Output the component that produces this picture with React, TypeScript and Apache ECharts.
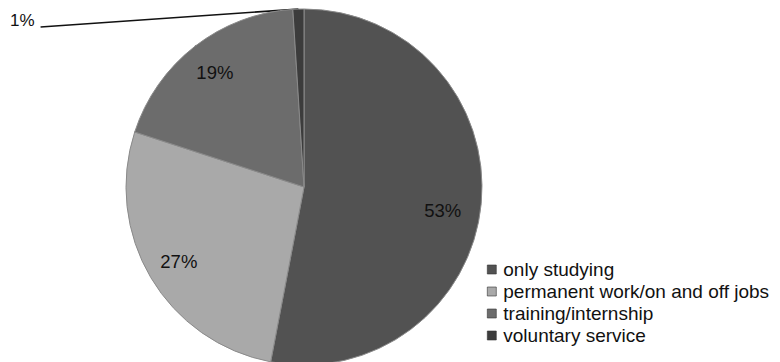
import React, { useEffect, useRef } from "react";
import * as echarts from "echarts";

const categories = ["only studying", "permanent work/on and off jobs", "training/internship", "voluntary service"];
const values = [53, 27, 19, 1];
const colors = ["#525252", "#a9a9a9", "#6c6c6c", "#3c3c3c"];

export default function App() {
  const ref = useRef<HTMLDivElement>(null);
  useEffect(() => {
    if (!ref.current) return;
    const chart = echarts.init(ref.current, null, { renderer: "svg" });
    const R = 178;
    const center = [304, 187];
    const font = "'Liberation Sans', Arial, sans-serif";
    const data = categories.map((name, i) => ({
      name,
      value: values[i],
      itemStyle: { color: colors[i] },
    }));
    chart.setOption({
      animation: false,
      backgroundColor: "#ffffff",
      legend: {
        orient: "vertical",
        left: 487,
        top: 260,
        padding: 0,
        itemWidth: 9,
        itemHeight: 9,
        itemGap: 3,
        icon: "rect",
        data: categories,
        textStyle: { fontFamily: font, fontSize: 19, color: "#111", padding: [0, 0, 0, 2] },
        itemStyle: { borderColor: "#333", borderWidth: 0.6 },
      },
      series: [
        {
          type: "pie",
          center,
          radius: [0, R],
          startAngle: 90,
          clockwise: true,
          silent: true,
          data,
          itemStyle: { borderColor: "#8a8a8a", borderWidth: 1 },
          label: {
            show: true,
            position: "outside",
            formatter: (p: any) => (p.dataIndex === 3 ? p.value + "%" : ""),
            fontFamily: font,
            fontSize: 17,
            lineHeight: 17,
            color: "#111",
            padding: [0, 6, 14, 0],
          },
          labelLine: {
            show: true,
            length: 0,
            length2: 0,
            lineStyle: { color: "#111", width: 1.6 },
          },
          labelLayout: (p: any) => {
            if (p.dataIndex === 3) return { x: 10, y: 11.5, align: "left", verticalAlign: "top" };
            return {};
          },
        },
        {
          type: "pie",
          center,
          radius: [R * 0.6, R],
          startAngle: 90,
          clockwise: true,
          silent: true,
          legendHoverLink: false,
          data: categories.map((name, i) => ({
            name: name + " ",
            value: values[i],
            itemStyle: { color: "transparent" },
            label: { show: i !== 3, offset: i === 0 ? [-6, 10] : [0, 0] },
          })),
          label: {
            show: true,
            position: "inside",
            formatter: "{c}%",
            fontFamily: font,
            fontSize: 18.5,
            color: "#111",
          },
          labelLine: { show: false },
        },
      ],
    });
    return () => chart.dispose();
  }, []);
  return <div ref={ref} style={{ position: "fixed", left: 0, top: 0, width: 780, height: 362 }} />;
}
